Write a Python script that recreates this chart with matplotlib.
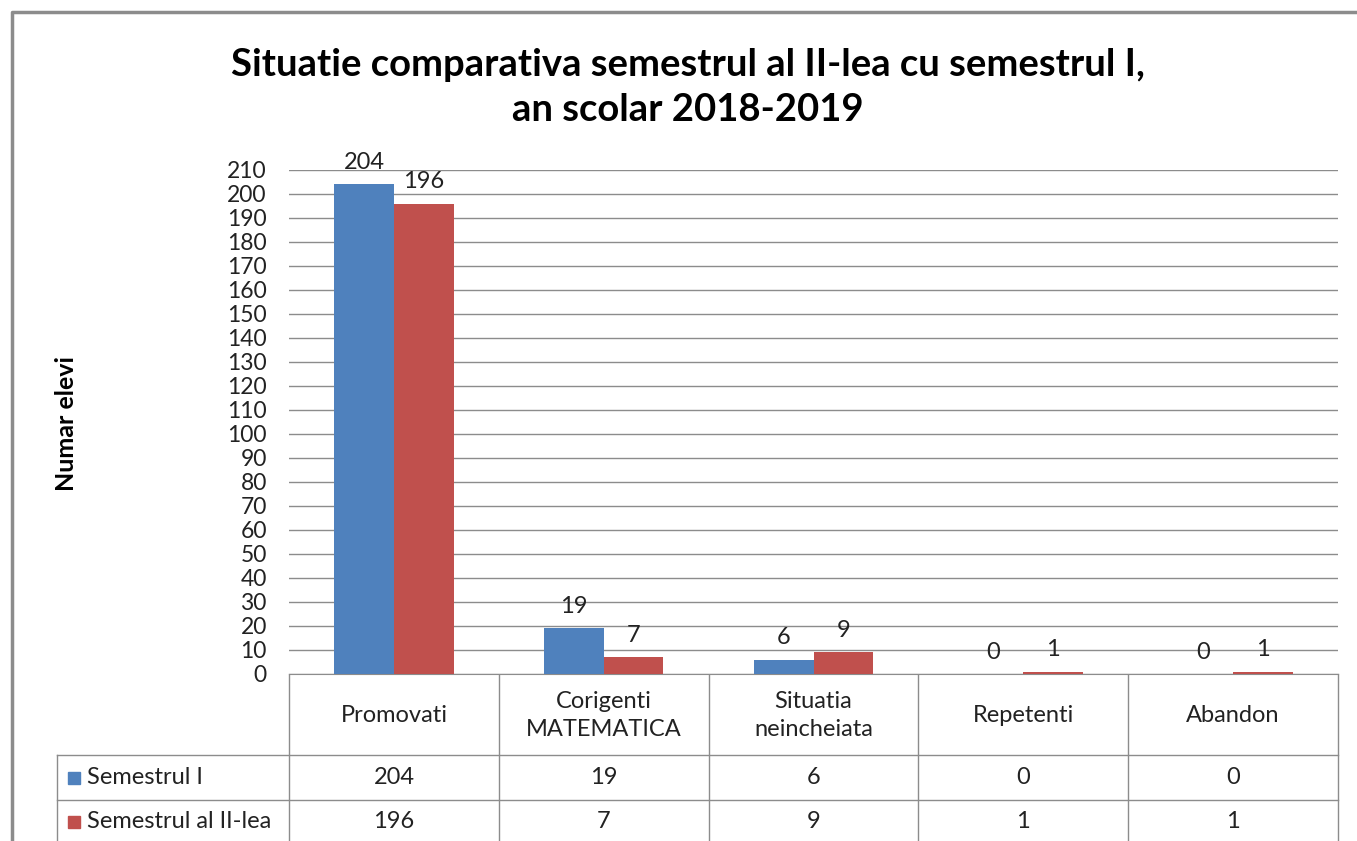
import numpy as np
import matplotlib
matplotlib.use("Agg")
import matplotlib.pyplot as plt
from matplotlib.patches import Rectangle

plt.rcParams['font.family'] = ['Lato', 'DejaVu Sans']

# data
categories = ['Promovati', 'Corigenti\nMATEMATICA', 'Situatia\nneincheiata', 'Repetenti', 'Abandon']
series_names = ['Semestrul I', 'Semestrul al II-lea']
sem1 = [204, 19, 6, 0, 0]
sem2 = [196, 7, 9, 1, 1]
colors = ['#4F81BD', '#C0504D']
yticks = list(range(0, 211, 10))

W, H = 1357, 841
fig = plt.figure(figsize=(W / 100, H / 100), dpi=100)
txt = '#222222'

# plot area in pixel coords
px0, px1, py_top, py_bot = 289, 1338, 170, 674
ax = fig.add_axes([px0 / W, 1 - py_bot / H, (px1 - px0) / W, (py_bot - py_top) / H])

x = np.arange(len(categories))
bw = 0.285
for i, (vals, col) in enumerate(zip([sem1, sem2], colors)):
    xs = x + (i - 0.5) * bw
    bars = ax.bar(xs, vals, width=bw, color=col, zorder=3)
    for b, v in zip(bars, vals):
        ax.annotate(str(v), (b.get_x() + b.get_width() / 2, v), xytext=(0, 8),
                    textcoords='offset points', ha='center', va='bottom',
                    fontsize=17, color=txt)

ax.set_xlim(-0.5, len(categories) - 0.5)
ax.set_ylim(0, 210)
ax.set_yticks(yticks)
ax.set_yticklabels([str(t) for t in yticks], fontsize=16.5, color=txt)
ax.tick_params(axis='y', length=0, pad=16)
ax.set_xticks([])
ax.grid(axis='y', color='#8c8c8c', linewidth=1.0, zorder=0)
for s in ['top', 'right', 'left']:
    ax.spines[s].set_visible(False)
ax.spines['bottom'].set_color('#8c8c8c')

# overlay in pixel coords for table, title, border
ov = fig.add_axes([0, 0, 1, 1], zorder=-1)
ov.set_xlim(0, W)
ov.set_ylim(H, 0)
ov.axis('off')

lc = '#8c8c8c'
# outer chart border
ov.plot([12, 12, W], [H, 12, 12], color='#8c8c8c', lw=2.5)

ov.text(688, 65, 'Situatie comparativa semestrul al II-lea cu semestrul I,',
        ha='center', va='center', fontsize=27.5, fontweight='bold')
ov.text(688, 110, 'an scolar 2018-2019', ha='center', va='center',
        fontsize=27.5, fontweight='bold')

ov.text(66, 423, 'Numar elevi', rotation=90, ha='center', va='center',
        fontsize=18, fontweight='bold')

# data table
col_w = (px1 - px0) / len(categories)
col_edges = [px0 + k * col_w for k in range(len(categories) + 1)]
row_y = [py_bot, 755, 800, 845]
for xe in col_edges:
    ov.plot([xe, xe], [py_bot, H], color=lc, lw=1)
ov.plot([57, 57], [row_y[1], H], color=lc, lw=1)
for ye in row_y[1:3]:
    ov.plot([57, px1], [ye, ye], color=lc, lw=1)

for k, cat in enumerate(categories):
    cx = (col_edges[k] + col_edges[k + 1]) / 2
    ov.text(cx, (row_y[0] + row_y[1]) / 2 + 1, cat, ha='center', va='center',
            fontsize=17, color=txt, linespacing=1.4)

for r, (name, vals, col) in enumerate(zip(series_names, [sem1, sem2], colors)):
    cy = (row_y[r + 1] + row_y[r + 2]) / 2 - (1 if r == 1 else 0)
    ov.add_patch(Rectangle((68, cy - 6), 12, 12, color=col))
    ov.text(87, cy, name, ha='left', va='center', fontsize=17, color=txt)
    for k, v in enumerate(vals):
        cx = (col_edges[k] + col_edges[k + 1]) / 2
        ov.text(cx, cy, str(v), ha='center', va='center', fontsize=17, color=txt)

fig.savefig('out.png', dpi=100)
